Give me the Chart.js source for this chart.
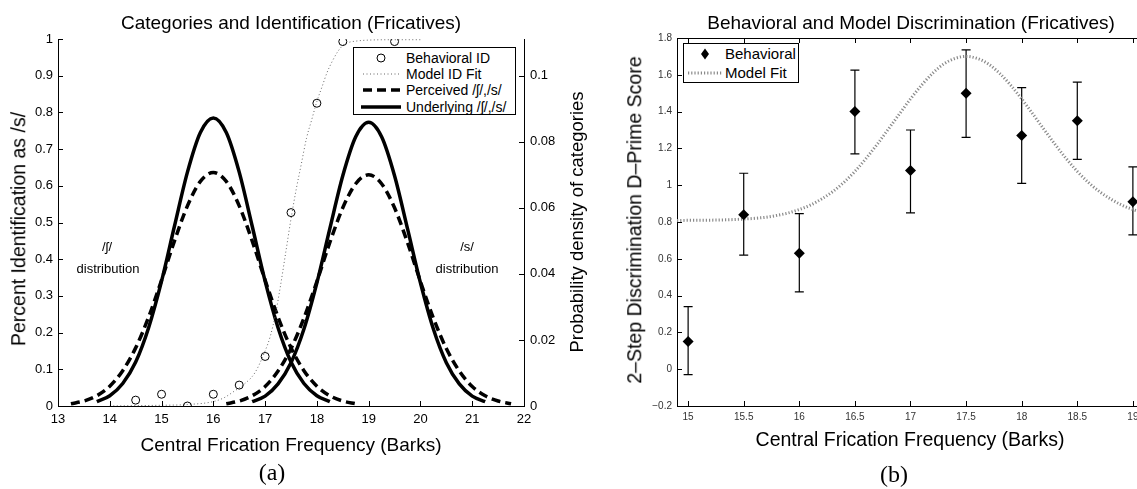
<!DOCTYPE html>
<html>
<head>
<meta charset="utf-8">
<script src="https://cdn.jsdelivr.net/npm/chart.js@4.4.0/dist/chart.umd.min.js"></script>
<style>
  html, body { margin: 0; padding: 0; background: #fff; overflow: hidden; }
  body { width: 1137px; height: 489px; position: relative; font-family: "Liberation Sans", Arial, sans-serif; color: #000; }
  canvas { position: absolute; top: 0; }
  #chartA { left: 0; }
  #chartB { left: 590px; }
  .txt { position: absolute; white-space: nowrap; transform: translate(-50%, -50%); line-height: 1; }
  .rot { transform: translate(-50%, -50%) rotate(-90deg); }
  .serif { font-family: "Liberation Serif", "Times New Roman", serif; }
  .legend { position: absolute; background: #fff; border: 1px solid #000; box-sizing: border-box; }
  .row { position: absolute; left: 0; height: 16px; white-space: nowrap; }
  .row svg { position: absolute; top: 0; }
  .row span { position: absolute; top: 0; line-height: 16px; }
</style>
</head>
<body>
<canvas id="chartA" width="600" height="489"></canvas>
<canvas id="chartB" width="560" height="489"></canvas>

<!-- panel (a) texts -->
<div class="txt" style="left:291px;top:22px;font-size:19px">Categories and Identification (Fricatives)</div>
<div class="txt" style="left:291px;top:444px;font-size:19px">Central Frication Frequency (Barks)</div>
<div class="txt rot" style="left:19px;top:229px;font-size:19.5px">Percent Identification as /s/</div>
<div class="txt rot" style="left:577px;top:222px;font-size:18.5px">Probability density of categories</div>
<div class="txt" style="left:107px;top:246px;font-size:13px">/ʃ/</div>
<div class="txt" style="left:108px;top:268px;font-size:13px">distribution</div>
<div class="txt" style="left:467px;top:246px;font-size:13px">/s/</div>
<div class="txt" style="left:467px;top:268px;font-size:13px">distribution</div>
<div class="txt serif" style="left:272px;top:472px;font-size:24px">(a)</div>

<div class="legend" style="left:353px;top:47px;width:163px;height:68px;font-size:14px">
  <div class="row" style="top:2px;width:100%">
    <svg width="50" height="16"><circle cx="27" cy="8" r="4" fill="none" stroke="#000" stroke-width="1"/></svg>
    <span style="left:52px">Behavioral ID</span>
  </div>
  <div class="row" style="top:18px;width:100%">
    <svg width="50" height="16"><line x1="9" y1="8" x2="47" y2="8" stroke="#666" stroke-width="1" stroke-dasharray="1 2.5"/></svg>
    <span style="left:52px">Model ID Fit</span>
  </div>
  <div class="row" style="top:34px;width:100%">
    <svg width="50" height="16"><line x1="9" y1="8" x2="47" y2="8" stroke="#000" stroke-width="3.5" stroke-dasharray="9 5"/></svg>
    <span style="left:52px">Perceived /ʃ/,/s/</span>
  </div>
  <div class="row" style="top:51px;width:100%">
    <svg width="50" height="16"><line x1="7" y1="8" x2="47" y2="8" stroke="#000" stroke-width="3.5"/></svg>
    <span style="left:52px">Underlying /ʃ/,/s/</span>
  </div>
</div>

<!-- panel (b) texts -->
<div class="txt" style="left:911px;top:22px;font-size:19px">Behavioral and Model Discrimination (Fricatives)</div>
<div class="txt" style="left:910px;top:440px;font-size:19.5px">Central Frication Frequency (Barks)</div>
<div class="txt rot" style="left:635px;top:220px;font-size:19.5px">2–Step Discrimination D–Prime Score</div>
<div class="txt serif" style="left:894px;top:474px;font-size:24px">(b)</div>

<div class="legend" style="left:683px;top:43px;width:116px;height:40px;font-size:15px">
  <div class="row" style="top:2px;width:100%">
    <svg width="40" height="16"><polygon points="21,2.5 25,8 21,13.5 17,8" fill="#000"/></svg>
    <span style="left:41px">Behavioral</span>
  </div>
  <div class="row" style="top:21px;width:100%">
    <svg width="40" height="16"><line x1="4" y1="8" x2="39" y2="8" stroke="#8a8a8a" stroke-width="3" stroke-dasharray="1.2 2"/></svg>
    <span style="left:41px">Model Fit</span>
  </div>
</div>

<script>
Chart.defaults.font.family = '"Liberation Sans", Arial, sans-serif';

// ---- panel (a): identification + category densities ----
const xTicksA = [13, 14, 15, 16, 17, 18, 19, 20, 21, 22];
const xTickLabelsA = ['13', '14', '15', '16', '17', '18', '19', '20', '21', '22'];
const yTicksA = [0, 0.1, 0.2, 0.3, 0.4, 0.5, 0.6, 0.7, 0.8, 0.9, 1];
const yTickLabelsA = ['0', '0.1', '0.2', '0.3', '0.4', '0.5', '0.6', '0.7', '0.8', '0.9', '1'];
const y2TicksA = [0, 0.02, 0.04, 0.06, 0.08, 0.1];
const y2TickLabelsA = ['0', '0.02', '0.04', '0.06', '0.08', '0.1'];

// behavioral identification (circles)
const idX = [14.5, 15, 15.5, 16, 16.5, 17, 17.5, 18, 18.5, 19.5];
const idY = [0.016, 0.032, 0.0, 0.032, 0.057, 0.135, 0.527, 0.825, 0.993, 0.993];

// model identification fit (dotted)
const fitX = [14, 14.5, 15, 15.5, 16, 16.2, 16.4, 16.6, 16.8, 17, 17.1, 17.2, 17.3, 17.4, 17.5, 17.6, 17.7, 17.8, 17.9, 18, 18.1, 18.2, 18.3, 18.4, 18.5, 18.6, 18.8, 19, 19.5, 20];
const fitY = [0.000, 0.001, 0.002, 0.004, 0.012, 0.022, 0.040, 0.060, 0.090, 0.150, 0.190, 0.250, 0.330, 0.420, 0.510, 0.590, 0.660, 0.730, 0.780, 0.830, 0.870, 0.910, 0.940, 0.965, 0.982, 0.990, 0.995, 0.997, 0.998, 0.998];

// underlying categories (solid), probability density
const undShX = [13.75, 14, 14.25, 14.5, 14.75, 15, 15.25, 15.5, 15.75, 16, 16.25, 16.5, 16.75, 17, 17.25, 17.5, 17.75, 18, 18.25];
const undShY = [0.0013, 0.0031, 0.0068, 0.0133, 0.0237, 0.0378, 0.0545, 0.0708, 0.0828, 0.0872, 0.0828, 0.0708, 0.0545, 0.0378, 0.0237, 0.0133, 0.0068, 0.0031, 0.0013];
const undSX = [16.75, 17, 17.25, 17.5, 17.75, 18, 18.25, 18.5, 18.75, 19, 19.25, 19.5, 19.75, 20, 20.25, 20.5, 20.75, 21, 21.25];
const undSY = [0.0013, 0.0030, 0.0067, 0.0131, 0.0233, 0.0373, 0.0537, 0.0697, 0.0815, 0.0859, 0.0815, 0.0697, 0.0537, 0.0373, 0.0233, 0.0131, 0.0067, 0.0030, 0.0013];

// perceived categories (dashed)
const perShX = [13.25, 13.5, 13.75, 14, 14.25, 14.5, 14.75, 15, 15.25, 15.5, 15.75, 16, 16.25, 16.5, 16.75, 17, 17.25, 17.5, 17.75, 18, 18.25, 18.5, 18.75];
const perShY = [0.0007, 0.0015, 0.0031, 0.0060, 0.0107, 0.0176, 0.0269, 0.0381, 0.0500, 0.0606, 0.0680, 0.0707, 0.0680, 0.0606, 0.0500, 0.0381, 0.0269, 0.0176, 0.0107, 0.0060, 0.0031, 0.0015, 0.0007];
const perSX = [16.25, 16.5, 16.75, 17, 17.25, 17.5, 17.75, 18, 18.25, 18.5, 18.75, 19, 19.25, 19.5, 19.75, 20, 20.25, 20.5, 20.75, 21, 21.25, 21.5, 21.75];
const perSY = [0.0007, 0.0015, 0.0031, 0.0059, 0.0106, 0.0174, 0.0266, 0.0377, 0.0495, 0.0600, 0.0673, 0.0700, 0.0673, 0.0600, 0.0495, 0.0377, 0.0266, 0.0174, 0.0106, 0.0059, 0.0031, 0.0015, 0.0007];

// ---- panel (b): discrimination ----
const xTicksB = [15, 15.5, 16, 16.5, 17, 17.5, 18, 18.5, 19];
const xTickLabelsB = ['15', '15.5', '16', '16.5', '17', '17.5', '18', '18.5', '19'];
const yTicksB = [-0.2, 0, 0.2, 0.4, 0.6, 0.8, 1, 1.2, 1.4, 1.6, 1.8];
const yTickLabelsB = ['\u22120.2', '0', '0.2', '0.4', '0.6', '0.8', '1', '1.2', '1.4', '1.6', '1.8'];

const behX = [15, 15.5, 16, 16.5, 17, 17.5, 18, 18.5, 19];
const behY = [0.15, 0.84, 0.63, 1.40, 1.08, 1.50, 1.27, 1.35, 0.91];
const behLow = [-0.03, 0.62, 0.42, 1.17, 0.85, 1.26, 1.01, 1.14, 0.73];
const behHigh = [0.34, 1.065, 0.845, 1.625, 1.30, 1.735, 1.53, 1.56, 1.10];

const modelX = [14.9, 15, 15.1, 15.2, 15.3, 15.4, 15.5, 15.6, 15.7, 15.8, 15.9, 16, 16.1, 16.2, 16.3, 16.4, 16.5, 16.6, 16.7, 16.8, 16.9, 17, 17.1, 17.2, 17.3, 17.4, 17.5, 17.6, 17.7, 17.8, 17.9, 18, 18.1, 18.2, 18.3, 18.4, 18.5, 18.6, 18.7, 18.8, 18.9, 19, 19.1];
const modelY = [0.808, 0.809, 0.809, 0.810, 0.811, 0.813, 0.816, 0.820, 0.826, 0.836, 0.849, 0.868, 0.892, 0.925, 0.965, 1.015, 1.075, 1.145, 1.222, 1.304, 1.387, 1.469, 1.544, 1.609, 1.659, 1.689, 1.700, 1.689, 1.659, 1.609, 1.544, 1.469, 1.387, 1.304, 1.222, 1.145, 1.075, 1.015, 0.965, 0.925, 0.892, 0.868, 0.849];

const pts = (xs, ys) => xs.map((x, i) => ({ x: x, y: ys[i] }));

// MATLAB style: no grid, tick marks are drawn inward by the plugin below
function axisStyle(tickVals, tickLabels, fontSize, color, pad) {
    return {
        afterBuildTicks: s => { s.ticks = tickVals.map(v => ({ value: v })); },
        ticks: {
            callback: (v, i) => tickLabels[i],
            font: { size: fontSize },
            color: color,
            padding: pad,
            autoSkip: false,
            maxRotation: 0
        },
        grid: { drawOnChartArea: false, drawTicks: false },
        border: { display: true, color: '#000', width: 1 }
    };
}

// inward tick marks at each scale's ticks
const inwardTicks = {
    id: 'inwardTicks',
    afterDraw(chart) {
        const { ctx, chartArea: a } = chart;
        const len = 5;
        ctx.save();
        ctx.strokeStyle = '#000';
        ctx.lineWidth = 1;
        ctx.beginPath();
        Object.values(chart.scales).forEach(s => {
            s.ticks.forEach(t => {
                const p = Math.round(s.getPixelForValue(t.value)) + 0.5;
                if (s.position === 'bottom') { ctx.moveTo(p, a.bottom); ctx.lineTo(p, a.bottom - len); }
                else if (s.position === 'top') { ctx.moveTo(p, a.top); ctx.lineTo(p, a.top + len); }
                else if (s.position === 'left') { ctx.moveTo(a.left, p); ctx.lineTo(a.left + len, p); }
                else if (s.position === 'right') { ctx.moveTo(a.right, p); ctx.lineTo(a.right - len, p); }
            });
        });
        ctx.stroke();
        ctx.restore();
    }
};

new Chart(document.getElementById('chartA'), {
    type: 'line',
    data: {
        datasets: [
            {
                label: 'Behavioral ID', data: pts(idX, idY), yAxisID: 'y', showLine: false,
                pointStyle: 'circle', pointRadius: 4, pointBorderWidth: 1,
                pointBorderColor: '#000', pointBackgroundColor: 'rgba(0,0,0,0)'
            },
            {
                label: 'Model ID Fit', data: pts(fitX, fitY), yAxisID: 'y',
                borderColor: '#666', borderWidth: 1, borderDash: [1, 2.5],
                pointRadius: 0, cubicInterpolationMode: 'monotone', fill: false
            },
            {
                label: 'Perceived /ʃ/', data: pts(perShX, perShY), yAxisID: 'y2',
                borderColor: '#000', borderWidth: 3.5, borderDash: [9, 5],
                pointRadius: 0, cubicInterpolationMode: 'monotone', fill: false
            },
            {
                label: 'Perceived /s/', data: pts(perSX, perSY), yAxisID: 'y2',
                borderColor: '#000', borderWidth: 3.5, borderDash: [9, 5],
                pointRadius: 0, cubicInterpolationMode: 'monotone', fill: false
            },
            {
                label: 'Underlying /ʃ/', data: pts(undShX, undShY), yAxisID: 'y2',
                borderColor: '#000', borderWidth: 3.5,
                pointRadius: 0, cubicInterpolationMode: 'monotone', fill: false
            },
            {
                label: 'Underlying /s/', data: pts(undSX, undSY), yAxisID: 'y2',
                borderColor: '#000', borderWidth: 3.5,
                pointRadius: 0, cubicInterpolationMode: 'monotone', fill: false
            }
        ]
    },
    options: {
        responsive: false,
        animation: false,
        events: [],
        layout: { padding: { left: 0, right: 0, top: 39, bottom: 0 }, autoPadding: false },
        plugins: { legend: { display: false }, tooltip: { enabled: false } },
        scales: {
            x: Object.assign({
                type: 'linear', position: 'bottom', min: 13, max: 22,
                afterFit: s => { s.height = 83; }
            }, axisStyle(xTicksA, xTickLabelsA, 13, '#000', 6)),
            y: Object.assign({
                type: 'linear', position: 'left', min: 0, max: 1,
                afterFit: s => { s.width = 58; }
            }, axisStyle(yTicksA, yTickLabelsA, 13, '#000', 5)),
            y2: Object.assign({
                type: 'linear', position: 'right', min: 0, max: 0.1 / 0.9,
                afterFit: s => { s.width = 76; }
            }, axisStyle(y2TicksA, y2TickLabelsA, 13, '#000', 6))
        }
    },
    plugins: [inwardTicks]
});

// error bars drawn through the chart's scales, under the diamonds
const errorBars = {
    id: 'errorBars',
    beforeDatasetsDraw(chart) {
        const { ctx, scales: { x, y } } = chart;
        ctx.save();
        ctx.strokeStyle = '#000';
        ctx.lineWidth = 1.2;
        behX.forEach((v, i) => {
            const px = x.getPixelForValue(v);
            const lo = y.getPixelForValue(behLow[i]);
            const hi = y.getPixelForValue(behHigh[i]);
            ctx.beginPath();
            ctx.moveTo(px, lo); ctx.lineTo(px, hi);
            ctx.moveTo(px - 4.5, lo); ctx.lineTo(px + 4.5, lo);
            ctx.moveTo(px - 4.5, hi); ctx.lineTo(px + 4.5, hi);
            ctx.stroke();
        });
        ctx.restore();
    }
};

new Chart(document.getElementById('chartB'), {
    type: 'line',
    data: {
        datasets: [
            {
                label: 'Behavioral', data: pts(behX, behY), showLine: false,
                pointStyle: 'rectRot', pointRadius: 5.5, pointBorderWidth: 0,
                pointBackgroundColor: '#000', pointBorderColor: '#000'
            },
            {
                label: 'Model Fit', data: pts(modelX, modelY),
                borderColor: '#8a8a8a', borderWidth: 3, borderDash: [1.2, 2],
                pointRadius: 0, cubicInterpolationMode: 'monotone', fill: false
            }
        ]
    },
    options: {
        responsive: false,
        animation: false,
        events: [],
        layout: { padding: { left: 0, right: 6, top: 38, bottom: 0 }, autoPadding: false },
        plugins: { legend: { display: false }, tooltip: { enabled: false } },
        scales: {
            x: Object.assign({
                type: 'linear', position: 'bottom', min: 14.9, max: 19.1,
                afterFit: s => { s.height = 83; }
            }, axisStyle(xTicksB, xTickLabelsB, 10, '#333', 5)),
            xTop: Object.assign({
                type: 'linear', position: 'top', min: 14.9, max: 19.1,
                afterFit: s => { s.height = 0; }
            }, axisStyle(xTicksB, xTickLabelsB, 10, '#333', 5), { ticks: { display: false } }),
            y: Object.assign({
                type: 'linear', position: 'left', min: -0.2, max: 1.8,
                afterFit: s => { s.width = 87; }
            }, axisStyle(yTicksB, yTickLabelsB, 10, '#333', 5))
        }
    },
    plugins: [errorBars, inwardTicks]
});
</script>
</body>
</html>
